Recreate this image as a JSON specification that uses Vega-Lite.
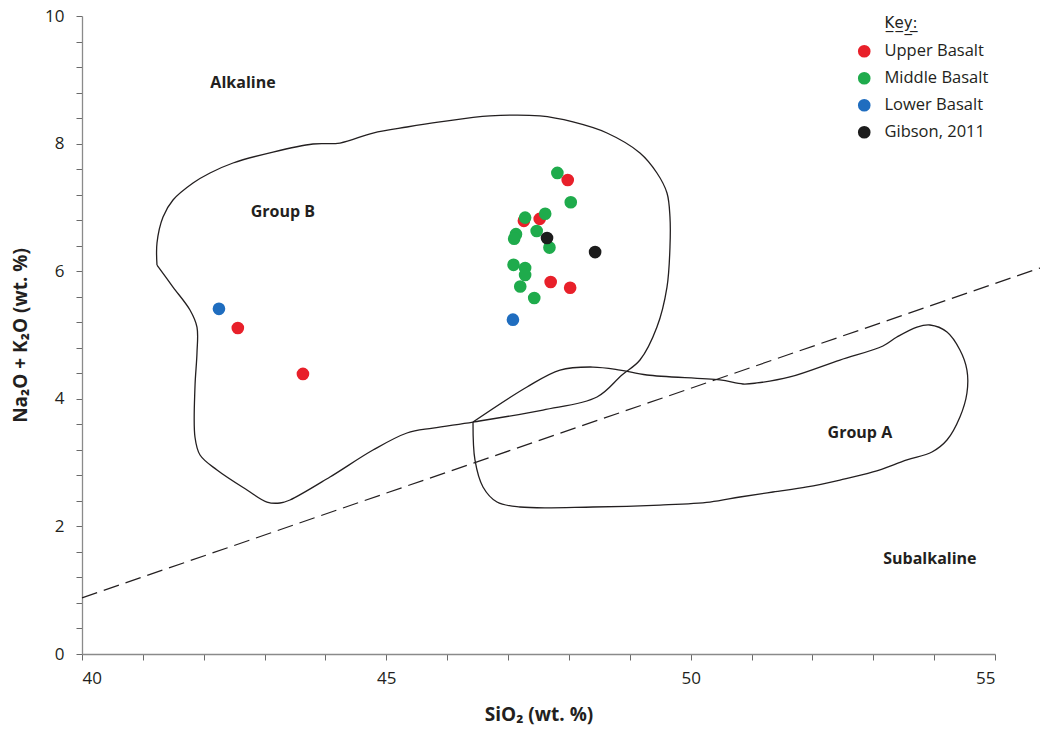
{
  "$schema": "https://vega.github.io/schema/vega-lite/v6.json",
  "width": 913,
  "height": 638,
  "autosize": {"type": "none"},
  "padding": {"left": 82, "top": 16, "right": 45, "bottom": 75},
  "background": "white",
  "config": {
    "view": {"stroke": null},
    "font": "Open Sans",
    "axis": {"domainColor": "#8a8a8a", "tickColor": "#6a6a6a", "labelColor": "#231f20", "titleColor": "#231f20", "labelFont": "Open Sans", "titleFont": "Open Sans", "labelFontSize": 17, "titleFontSize": 19, "titleFontWeight": "bold", "grid": false, "tickSize": 6, "domainWidth": 1.3, "labelOverlap": false, "format": "d"}
  },
  "datasets": {
    "pts": [
      {"x": 47.98, "y": 7.43, "series": "Upper Basalt"},
      {"x": 47.26, "y": 6.79, "series": "Upper Basalt"},
      {"x": 47.52, "y": 6.82, "series": "Upper Basalt"},
      {"x": 47.70, "y": 5.83, "series": "Upper Basalt"},
      {"x": 48.02, "y": 5.74, "series": "Upper Basalt"},
      {"x": 42.56, "y": 5.11, "series": "Upper Basalt"},
      {"x": 43.63, "y": 4.39, "series": "Upper Basalt"},
      {"x": 47.81, "y": 7.54, "series": "Middle Basalt"},
      {"x": 48.03, "y": 7.08, "series": "Middle Basalt"},
      {"x": 47.28, "y": 6.84, "series": "Middle Basalt"},
      {"x": 47.61, "y": 6.90, "series": "Middle Basalt"},
      {"x": 47.47, "y": 6.63, "series": "Middle Basalt"},
      {"x": 47.13, "y": 6.58, "series": "Middle Basalt"},
      {"x": 47.10, "y": 6.51, "series": "Middle Basalt"},
      {"x": 47.68, "y": 6.37, "series": "Middle Basalt"},
      {"x": 47.09, "y": 6.10, "series": "Middle Basalt"},
      {"x": 47.28, "y": 6.05, "series": "Middle Basalt"},
      {"x": 47.28, "y": 5.94, "series": "Middle Basalt"},
      {"x": 47.20, "y": 5.76, "series": "Middle Basalt"},
      {"x": 47.43, "y": 5.58, "series": "Middle Basalt"},
      {"x": 42.25, "y": 5.41, "series": "Lower Basalt"},
      {"x": 47.08, "y": 5.24, "series": "Lower Basalt"},
      {"x": 47.64, "y": 6.52, "series": "Gibson, 2011"},
      {"x": 48.43, "y": 6.30, "series": "Gibson, 2011"}
    ],
    "polys": [
      {"g": "B", "o": 1, "x": 41.232, "y": 6.097},
      {"g": "B", "o": 2, "x": 41.232, "y": 6.442},
      {"g": "B", "o": 3, "x": 41.331, "y": 6.850},
      {"g": "B", "o": 4, "x": 41.495, "y": 7.116},
      {"g": "B", "o": 5, "x": 41.824, "y": 7.382},
      {"g": "B", "o": 6, "x": 42.103, "y": 7.539},
      {"g": "B", "o": 7, "x": 42.481, "y": 7.696},
      {"g": "B", "o": 8, "x": 43.138, "y": 7.868},
      {"g": "B", "o": 9, "x": 43.795, "y": 7.994},
      {"g": "B", "o": 10, "x": 44.239, "y": 8.009},
      {"g": "B", "o": 11, "x": 44.781, "y": 8.166},
      {"g": "B", "o": 12, "x": 45.339, "y": 8.260},
      {"g": "B", "o": 13, "x": 45.881, "y": 8.339},
      {"g": "B", "o": 14, "x": 46.703, "y": 8.433},
      {"g": "B", "o": 15, "x": 47.524, "y": 8.433},
      {"g": "B", "o": 16, "x": 48.066, "y": 8.339},
      {"g": "B", "o": 17, "x": 48.625, "y": 8.166},
      {"g": "B", "o": 18, "x": 49.167, "y": 7.853},
      {"g": "B", "o": 19, "x": 49.446, "y": 7.539},
      {"g": "B", "o": 20, "x": 49.611, "y": 7.226},
      {"g": "B", "o": 21, "x": 49.660, "y": 6.850},
      {"g": "B", "o": 22, "x": 49.660, "y": 6.379},
      {"g": "B", "o": 23, "x": 49.611, "y": 5.752},
      {"g": "B", "o": 24, "x": 49.446, "y": 5.125},
      {"g": "B", "o": 25, "x": 49.167, "y": 4.608},
      {"g": "B", "o": 26, "x": 48.871, "y": 4.373},
      {"g": "B", "o": 27, "x": 48.461, "y": 4.028},
      {"g": "B", "o": 28, "x": 47.573, "y": 3.824},
      {"g": "B", "o": 29, "x": 46.424, "y": 3.636},
      {"g": "B", "o": 30, "x": 45.766, "y": 3.542},
      {"g": "B", "o": 31, "x": 45.339, "y": 3.464},
      {"g": "B", "o": 32, "x": 44.781, "y": 3.197},
      {"g": "B", "o": 33, "x": 44.074, "y": 2.774},
      {"g": "B", "o": 34, "x": 43.417, "y": 2.414},
      {"g": "B", "o": 35, "x": 43.253, "y": 2.367},
      {"g": "B", "o": 36, "x": 43.039, "y": 2.382},
      {"g": "B", "o": 37, "x": 42.711, "y": 2.571},
      {"g": "B", "o": 38, "x": 42.218, "y": 2.884},
      {"g": "B", "o": 39, "x": 41.939, "y": 3.119},
      {"g": "B", "o": 40, "x": 41.856, "y": 3.401},
      {"g": "B", "o": 41, "x": 41.856, "y": 4.185},
      {"g": "B", "o": 42, "x": 41.889, "y": 4.718},
      {"g": "B", "o": 43, "x": 41.889, "y": 5.125},
      {"g": "B", "o": 44, "x": 41.774, "y": 5.392},
      {"g": "B", "o": 45, "x": 41.495, "y": 5.752},
      {"g": "B", "o": 46, "x": 41.232, "y": 6.097},
      {"g": "A", "o": 1, "x": 46.424, "y": 3.636},
      {"g": "A", "o": 2, "x": 47.311, "y": 4.185},
      {"g": "A", "o": 3, "x": 47.853, "y": 4.451},
      {"g": "A", "o": 4, "x": 48.395, "y": 4.498},
      {"g": "A", "o": 5, "x": 48.839, "y": 4.451},
      {"g": "A", "o": 6, "x": 49.282, "y": 4.373},
      {"g": "A", "o": 7, "x": 50.481, "y": 4.295},
      {"g": "A", "o": 8, "x": 50.859, "y": 4.232},
      {"g": "A", "o": 9, "x": 51.089, "y": 4.248},
      {"g": "A", "o": 10, "x": 51.631, "y": 4.342},
      {"g": "A", "o": 11, "x": 52.453, "y": 4.608},
      {"g": "A", "o": 12, "x": 53.159, "y": 4.828},
      {"g": "A", "o": 13, "x": 53.389, "y": 4.969},
      {"g": "A", "o": 14, "x": 53.718, "y": 5.125},
      {"g": "A", "o": 15, "x": 53.931, "y": 5.157},
      {"g": "A", "o": 16, "x": 54.211, "y": 5.047},
      {"g": "A", "o": 17, "x": 54.424, "y": 4.765},
      {"g": "A", "o": 18, "x": 54.539, "y": 4.451},
      {"g": "A", "o": 19, "x": 54.539, "y": 4.091},
      {"g": "A", "o": 20, "x": 54.424, "y": 3.715},
      {"g": "A", "o": 21, "x": 54.211, "y": 3.354},
      {"g": "A", "o": 22, "x": 53.964, "y": 3.166},
      {"g": "A", "o": 23, "x": 53.553, "y": 3.041},
      {"g": "A", "o": 24, "x": 52.995, "y": 2.853},
      {"g": "A", "o": 25, "x": 52.453, "y": 2.727},
      {"g": "A", "o": 26, "x": 51.911, "y": 2.618},
      {"g": "A", "o": 27, "x": 51.352, "y": 2.539},
      {"g": "A", "o": 28, "x": 50.810, "y": 2.461},
      {"g": "A", "o": 29, "x": 50.317, "y": 2.382},
      {"g": "A", "o": 30, "x": 49.496, "y": 2.335},
      {"g": "A", "o": 31, "x": 48.395, "y": 2.304},
      {"g": "A", "o": 32, "x": 47.196, "y": 2.304},
      {"g": "A", "o": 33, "x": 46.818, "y": 2.382},
      {"g": "A", "o": 34, "x": 46.588, "y": 2.618},
      {"g": "A", "o": 35, "x": 46.456, "y": 3.041},
      {"g": "A", "o": 36, "x": 46.424, "y": 3.636}
    ],
    "divide": [
      {"x": 40, "y": 0.88},
      {"x": 55.74, "y": 6.05}
    ],
    "labels": [
      {"t": "Alkaline", "x": 42.645, "y": 8.95},
      {"t": "Group B", "x": 43.30, "y": 6.93},
      {"t": "Group A", "x": 52.78, "y": 3.46},
      {"t": "Subalkaline", "x": 53.93, "y": 1.49}
    ]
  },
  "layer": [
    {
      "data": {"name": "polys"},
      "mark": {"type": "line", "color": "#231f20", "strokeWidth": 1.3, "interpolate": "catmull-rom"},
      "encoding": {
        "x": {"field": "x", "type": "quantitative", "scale": {"domain": [40, 55], "nice": false, "zero": false},
          "axis": {"title": "SiO₂ (wt. %)", "values": [40,41,42,43,44,45,46,47,48,49,50,51,52,53,54,55], "tickCount": 40, "labelExpr": "datum.value % 5 == 0 ? datum.label : ''", "labelOverlap": false, "labelPadding": 10, "titlePadding": 19}},
        "y": {"field": "y", "type": "quantitative", "scale": {"domain": [0, 10], "nice": false},
          "axis": {"title": "Na₂O + K₂O (wt. %)", "values": [0,0.4,0.8,1.2,1.6,2,2.4,2.8,3.2,3.6,4,4.4,4.8,5.2,5.6,6,6.4,6.8,7.2,7.6,8,8.4,8.8,9.2,9.6,10], "tickCount": 40, "labelExpr": "(round(datum.value * 10) % 20 == 0) ? format(datum.value, 'd') : ''", "labelOverlap": false, "labelPadding": 12, "titlePadding": 14}},
        "detail": {"field": "g"},
        "order": {"field": "o", "type": "quantitative"}
      }
    },
    {
      "data": {"name": "divide"},
      "mark": {"type": "line", "color": "#231f20", "strokeWidth": 1.2, "strokeDash": [16, 7]},
      "encoding": {
        "x": {"field": "x", "type": "quantitative"},
        "y": {"field": "y", "type": "quantitative"}
      }
    },
    {
      "data": {"name": "labels"},
      "mark": {"type": "text", "font": "Open Sans", "fontWeight": "bold", "fontSize": 16, "color": "#231f20"},
      "encoding": {
        "x": {"field": "x", "type": "quantitative"},
        "y": {"field": "y", "type": "quantitative"},
        "text": {"field": "t"}
      }
    },
    {
      "data": {"name": "pts"},
      "mark": {"type": "circle", "size": 160, "opacity": 1},
      "encoding": {
        "x": {"field": "x", "type": "quantitative"},
        "y": {"field": "y", "type": "quantitative"},
        "color": {"field": "series", "type": "nominal",
          "scale": {"domain": ["Upper Basalt", "Middle Basalt", "Lower Basalt", "Gibson, 2011"], "range": ["#e8202a", "#1fab4c", "#1f6dbf", "#1c1c1c"]},
          "legend": {"title": "\u200b\u00a0\u00a0\u00a0\u00a0\u00a0\u00a0K\u0332e\u0332y\u0332:\u0332", "orient": "none", "legendX": 774, "legendY": 0, "padding": 0, "titleFont": "DejaVu Sans", "titleFontSize": 15, "titleFontWeight": "normal", "titleColor": "#231f20", "titlePadding": 12, "labelFont": "Open Sans", "labelFontSize": 16.5, "labelColor": "#231f20", "labelOffset": 12, "symbolSize": 160, "symbolType": "circle", "symbolStrokeWidth": 0, "rowPadding": 10, "symbolOpacity": 1}}
      }
    }
  ]
}
